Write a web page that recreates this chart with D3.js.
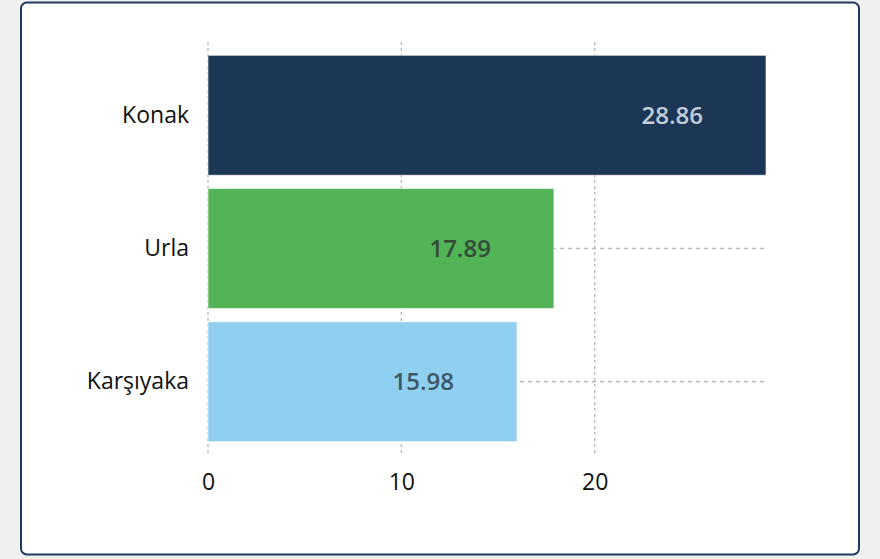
<!DOCTYPE html>
<html>
<head>
<meta charset="utf-8">
<script src="https://cdn.jsdelivr.net/npm/d3@7"></script>
<style>
  body { margin: 0; background: #f0f0f0; }
  svg { display: block; }
  text { font-family: "Open Sans", "Noto Sans", sans-serif; }
</style>
</head>
<body>
<svg id="chart" width="880" height="559"></svg>
<script>
// data
const categories = ["Konak", "Urla", "Karşıyaka"];
const values = [28.86, 17.89, 15.98];
const barColors = ["#1c3756", "#52b357", "#8fd0f0"];
const labelColors = ["#c3cdd9", "#354b37", "#3c5766"];
const tickValues = [0, 10, 20];

const svg = d3.select("#chart");

// card
svg.append("rect")
  .attr("x", 21).attr("y", 2.5)
  .attr("width", 838).attr("height", 552)
  .attr("rx", 6)
  .attr("fill", "#fff")
  .attr("stroke", "#1f3a5c")
  .attr("stroke-width", 2);

const x = d3.scaleLinear()
  .domain([0, d3.max(values)])
  .range([208, 766]);

const y = d3.scaleBand()
  .domain(categories)
  .range([42, 455])
  .padding(0.1);

const data = categories.map((c, i) => ({ name: c, value: values[i], color: barColors[i], label: labelColors[i] }));

const grid = svg.append("g").attr("class", "grid");

// vertical gridlines
grid.selectAll("line.v")
  .data(tickValues)
  .enter().append("line")
  .attr("class", "v")
  .attr("x1", d => x(d)).attr("x2", d => x(d))
  .attr("y1", 42).attr("y2", 455)
  .attr("stroke", "#bdbdbd")
  .attr("stroke-width", 1.5)
  .attr("stroke-dasharray", "3,3");

// horizontal lines through band centers
grid.selectAll("line.h")
  .data(categories)
  .enter().append("line")
  .attr("class", "h")
  .attr("x1", x(0)).attr("x2", x.range()[1])
  .attr("y1", d => y(d) + y.bandwidth() / 2)
  .attr("y2", d => y(d) + y.bandwidth() / 2)
  .attr("stroke", "#bdbdbd")
  .attr("stroke-width", 1.5)
  .attr("stroke-dasharray", "4,4");

// bars
svg.append("g").selectAll("rect")
  .data(data)
  .enter().append("rect")
  .attr("x", x(0))
  .attr("y", d => y(d.name))
  .attr("width", d => x(d.value) - x(0))
  .attr("height", y.bandwidth())
  .attr("fill", d => d.color)
  .attr("stroke", "#ffffff")
  .attr("stroke-opacity", 0.6)
  .attr("stroke-width", 1);

// value labels inside bars
svg.append("g").selectAll("text")
  .data(data)
  .enter().append("text")
  .attr("x", d => x(d.value) - 63)
  .attr("y", d => y(d.name) + y.bandwidth() / 2)
  .attr("dy", "0.35em")
  .attr("text-anchor", "end")
  .attr("font-size", 24)
  .attr("font-weight", 600)
  .attr("fill", d => d.label)
  .text(d => d.value.toFixed(2));

// category axis
const yAxis = svg.append("g")
  .attr("transform", "translate(" + x(0) + ",0)")
  .call(d3.axisLeft(y).tickSize(0).tickPadding(19));
yAxis.select(".domain").remove();
yAxis.selectAll("text")
  .attr("font-size", 23)
  .attr("fill", "#111")
  .style("font-family", "'Open Sans', sans-serif");

// value axis
const xAxis = svg.append("g")
  .attr("transform", "translate(0,455)")
  .call(d3.axisBottom(x).tickValues(tickValues).tickSize(0).tickPadding(19));
xAxis.select(".domain").remove();
xAxis.selectAll("text")
  .attr("font-size", 23)
  .attr("fill", "#111")
  .style("font-family", "'Open Sans', sans-serif");
</script>
</body>
</html>
